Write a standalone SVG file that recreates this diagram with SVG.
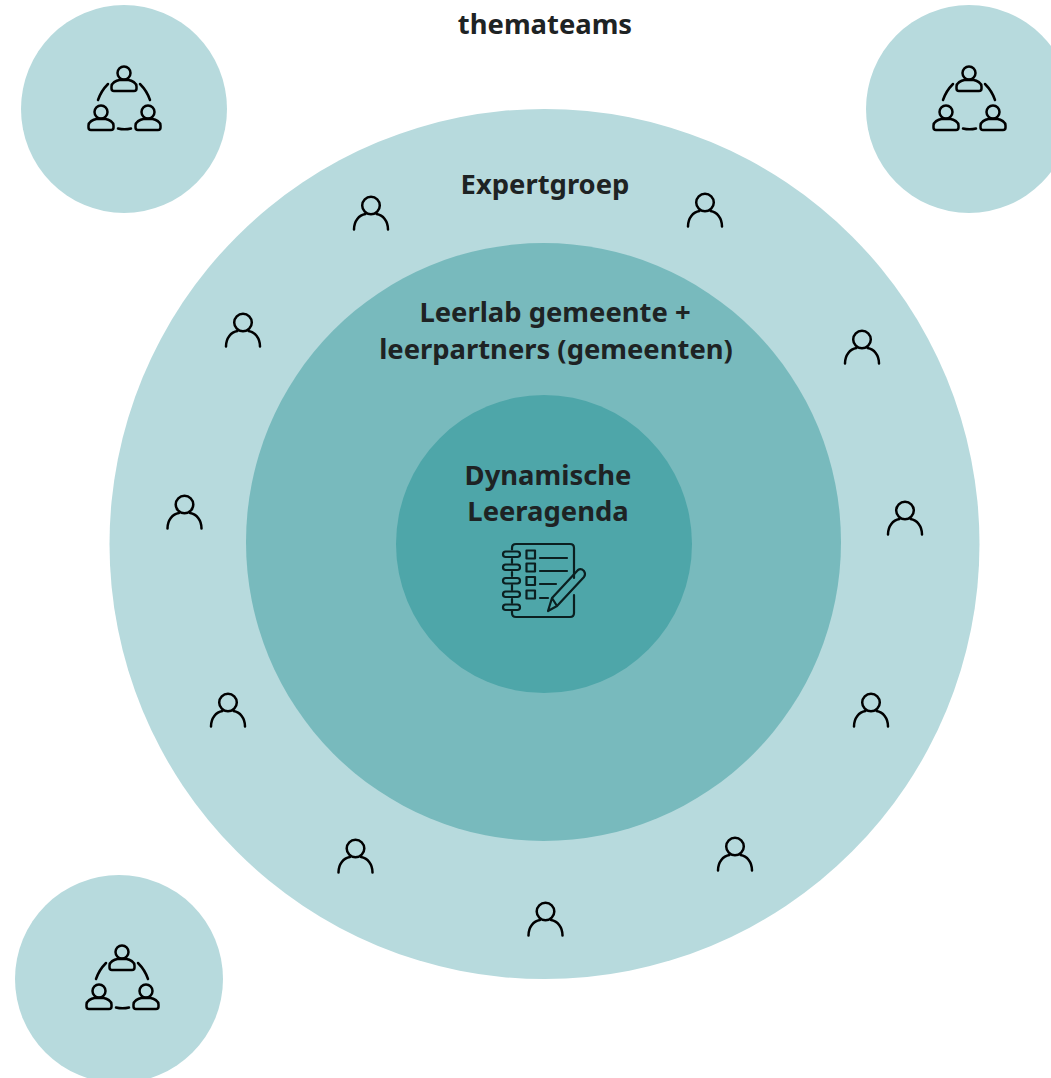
<svg xmlns="http://www.w3.org/2000/svg" xmlns:xlink="http://www.w3.org/1999/xlink" width="1051" height="1078" viewBox="0 0 1051 1078">
<style>
.light{fill:#b7dadd}.mid{fill:#78babd}.dark{fill:#4ea6a9}
.t{font-family:"Noto Sans","Liberation Sans",sans-serif;font-weight:700;font-size:27.4px;fill:#1e2324;text-anchor:middle}
.i{fill:none;stroke:#000;stroke-width:2.500;stroke-linecap:round;stroke-linejoin:round}
.n{fill:none;stroke:#0b1f20;stroke-width:2.200;stroke-linecap:round;stroke-linejoin:round}
</style>
<defs>
<g id="person" class="i"><circle cx="0" cy="-7.500" r="8.800"/><path d="M-17 16.500C-17 8-12 2-5.500 1M17 16.500C17 8 12 2 5.500 1"/></g>
<g id="mini" class="i"><circle cx="0" cy="-6" r="6.500"/><path d="M-12.500 9.500V7.500C-12.500 4-8 1.500-4.500 1H4.500C8 1.500 12.500 4 12.500 7.500V9.500C12.500 11 11.500 12 10 12H-10C-11.500 12-12.500 11-12.500 9.500Z"/></g>
<g id="team"><use xlink:href="#mini" href="#mini" x="0" y="-30"/><use xlink:href="#mini" href="#mini" x="-23" y="9"/><use xlink:href="#mini" href="#mini" x="24" y="9"/><path class="i" d="M-26-9C-24-15-20-21-16-25M16-25C20-21 24-15 26-9M-6 19.500C-2 20.500 3 20.500 7 19.500"/></g>
</defs>
<g id="team-top-left"><ellipse class="light" cx="124" cy="109" rx="103" ry="104"/><use xlink:href="#team" href="#team" x="124" y="109"/></g>
<g id="team-top-right"><ellipse class="light" cx="969" cy="109" rx="103" ry="104"/><use xlink:href="#team" href="#team" x="969" y="109"/></g>
<g id="team-bottom-left"><circle class="light" cx="119" cy="979" r="104"/><use xlink:href="#team" href="#team" x="122" y="988"/></g>
<g id="title"><text class="t" x="545" y="34">themateams</text></g>
<g id="expertgroep"><circle class="light" cx="544.500" cy="544" r="435"/><text class="t" x="545" y="194">Expertgroep</text></g>
<g id="leerlab"><ellipse class="mid" cx="543.500" cy="542" rx="297.500" ry="299"/><text class="t" x="555" y="322">Leerlab gemeente +</text><text class="t" x="556" y="359">leerpartners (gemeenten)</text></g>
<g id="leeragenda"><ellipse class="dark" cx="544" cy="544" rx="148" ry="149"/><text class="t" x="548" y="484.500">Dynamische</text><text class="t" x="548" y="521">Leeragenda</text>
<g class="n"><path d="M512 549.500V548Q512 544 516 544H570Q574 544 574 548V578M574 595V613Q574 617 570 617H516Q512 617 512 613V611M512 559V563M512 572V576M512 585V590M512 599V603"/>
<rect x="503" y="551.500" width="17" height="5.500" rx="2.700"/><rect x="503" y="564.500" width="17" height="5.500" rx="2.700"/><rect x="503" y="578" width="17" height="5.500" rx="2.700"/><rect x="503" y="591.500" width="17" height="5.500" rx="2.700"/><rect x="503" y="604.500" width="17" height="5.500" rx="2.700"/>
<rect x="526.500" y="550.500" width="8.500" height="8"/><rect x="526.500" y="563.500" width="8.500" height="8"/><rect x="526.500" y="577" width="8.500" height="8"/><rect x="526.500" y="590.500" width="8.500" height="8"/>
<path d="M540 558H567M540 571H567M540 584H556M540 598H548"/>
<path d="M548 611L552 598L578 570Q581 568 584 571Q586 574 584 577L557 606ZM552 598L557 606"/></g></g>
<g id="members">
<use xlink:href="#person" href="#person" x="371" y="213"/>
<use xlink:href="#person" href="#person" x="705" y="210"/>
<use xlink:href="#person" href="#person" x="243" y="330"/>
<use xlink:href="#person" href="#person" x="862" y="347"/>
<use xlink:href="#person" href="#person" x="184.500" y="512"/>
<use xlink:href="#person" href="#person" x="905" y="518"/>
<use xlink:href="#person" href="#person" x="228" y="710"/>
<use xlink:href="#person" href="#person" x="871" y="710"/>
<use xlink:href="#person" href="#person" x="355.500" y="856"/>
<use xlink:href="#person" href="#person" x="735" y="854"/>
<use xlink:href="#person" href="#person" x="545.500" y="919"/>
</g>
</svg>
